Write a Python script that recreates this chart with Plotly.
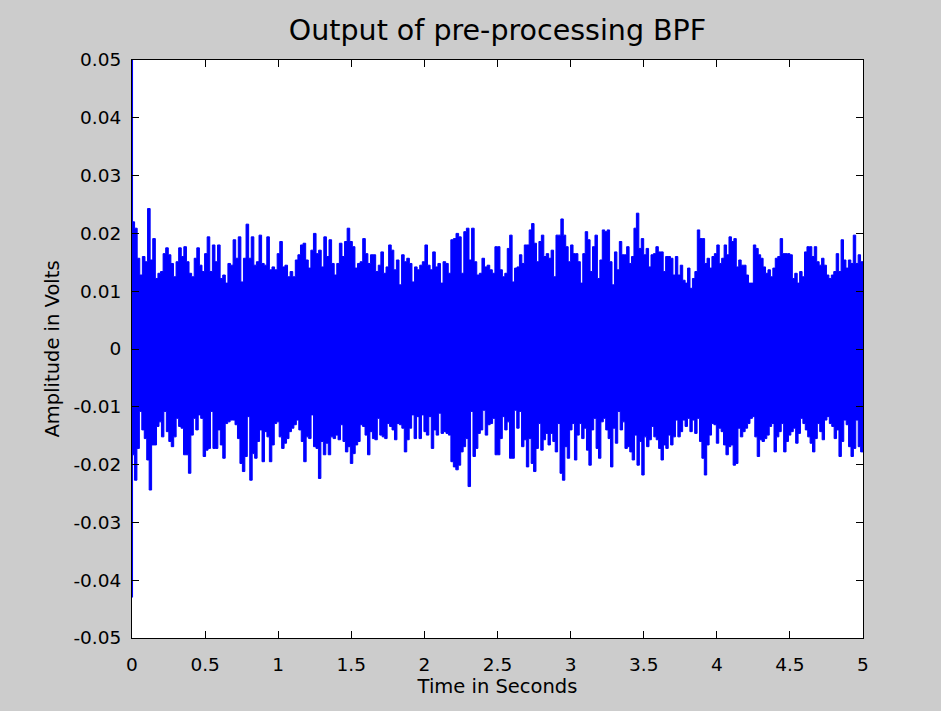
import numpy as np
import plotly.graph_objects as go

# Band-pass filter output, 5 s record.  The trace is stored as its
# per-column peak envelope (max / min of the samples in each short
# time slot), in millivolts, split into the two halves of the record.
DURATION_S = 5.0
SPLIT_S = 2.5

upper_first_mv = [
    22.0, 20.9, 15.7, 12.8, 16.0, 15.1, 24.3, 15.4, 19.1, 12.2,
    13.1, 13.4, 16.5, 17.5, 16.3, 14.8, 12.5, 15.1, 17.5, 16.0,
    17.7, 15.1, 13.1, 12.5, 15.7, 17.5, 14.5, 13.4, 16.5, 19.4,
    13.4, 18.0, 15.1, 18.0, 12.2, 12.8, 11.4, 14.8, 14.5, 18.9,
    15.7, 19.4, 11.6, 15.7, 21.6, 15.7, 19.4, 14.5, 15.1, 19.7,
    14.8, 14.5, 19.4, 13.7, 14.2, 13.7, 16.5, 18.6, 14.2, 14.5,
    12.5, 13.4, 12.5, 15.4, 16.3, 18.0, 18.3, 15.4, 14.0, 17.1,
    20.0, 16.5, 17.1, 14.2, 19.4, 16.0, 18.9, 14.8, 12.8, 14.8,
    18.3, 16.0, 18.6, 20.9, 18.6, 17.7, 14.0, 14.8, 15.1, 19.1,
    16.5, 14.8, 16.3, 16.3, 13.4, 14.5, 16.8, 13.1, 14.2, 18.0,
    17.1, 13.7, 15.4, 11.1, 16.3, 15.1, 15.7, 14.8, 11.6, 14.2,
    13.7, 14.5, 15.1, 18.0, 14.5, 13.7, 16.8, 14.2, 14.8, 11.4,
    15.1, 14.8, 13.1, 18.9, 19.1, 20.0, 19.4, 13.1, 20.3, 20.9,
    15.4, 20.9, 15.1, 12.8, 13.1, 15.7, 14.2, 14.5, 13.7, 13.1,
    17.7,
]

upper_second_mv = [
    17.7, 13.7, 12.5, 13.1, 17.4, 19.7, 11.6, 14.0, 14.2, 16.3,
    14.8, 18.0, 18.0, 20.6, 21.7, 18.3, 15.1, 18.6, 19.7, 16.0,
    16.5, 15.7, 17.1, 12.5, 19.7, 19.7, 22.5, 19.7, 17.7, 15.1,
    18.0, 16.5, 16.5, 15.1, 11.4, 16.5, 20.3, 18.9, 13.4, 17.7,
    19.7, 12.2, 15.4, 20.6, 20.3, 20.6, 15.1, 11.1, 16.8, 13.7,
    18.6, 16.3, 16.3, 17.7, 14.8, 16.0, 20.9, 23.5, 17.4, 19.1,
    16.3, 17.4, 14.2, 16.3, 16.5, 17.7, 16.8, 16.8, 13.4, 16.0,
    16.0, 15.7, 12.8, 16.0, 12.8, 14.5, 11.9, 11.4, 14.0, 10.5,
    12.2, 13.4, 20.6, 19.1, 19.1, 14.8, 15.7, 14.0, 16.0, 16.5,
    18.0, 14.8, 15.7, 18.0, 16.3, 19.4, 18.6, 19.1, 14.2, 15.4,
    14.5, 14.5, 12.8, 11.4, 11.4, 18.0, 17.4, 16.3, 15.7, 14.2,
    13.1, 13.7, 12.5, 14.0, 15.7, 16.0, 19.1, 16.5, 16.5, 16.5,
    16.3, 12.2, 13.1, 11.4, 13.4, 12.5, 16.8, 17.7, 17.7, 16.0,
    17.7, 15.1, 14.5, 15.7, 14.5, 12.8, 12.2, 12.8, 13.4, 16.5,
    13.4, 18.9, 15.4, 14.0, 15.4, 14.8, 19.7, 14.8, 16.3, 15.1,
]

lower_first_mv = [
    -18.3, -22.7, -17.2, -10.8, -14.0, -15.5, -19.2, -24.4, -16.6, -16.6,
    -13.4, -12.6, -15.2, -10.8, -14.3, -16.0, -16.9, -15.2, -12.0, -13.4,
    -13.7, -18.3, -18.3, -21.5, -14.9, -12.0, -14.0, -11.4, -12.0, -18.6,
    -17.5, -17.2, -10.8, -17.2, -17.2, -14.0, -16.6, -18.9, -12.9, -12.6,
    -12.3, -12.3, -13.1, -15.5, -19.8, -21.2, -18.6, -11.7, -22.7, -18.1,
    -18.9, -16.0, -14.0, -19.5, -14.3, -15.2, -19.5, -16.6, -12.9, -12.6,
    -15.2, -17.2, -16.3, -15.5, -14.3, -13.7, -13.1, -12.3, -14.0, -16.0,
    -19.5, -15.2, -15.5, -11.4, -16.9, -17.2, -22.4, -16.0, -18.3, -16.3,
    -18.3, -15.2, -15.5, -14.9, -15.7, -13.1, -16.0, -17.8, -16.9, -19.8,
    -18.1, -16.6, -16.0, -13.1, -13.4, -14.9, -18.3, -14.3, -15.5, -15.7,
    -12.0, -14.9, -15.2, -15.5, -12.9, -13.4, -14.0, -15.7, -12.9, -13.1,
    -13.7, -17.8, -15.7, -13.7, -11.4, -15.5, -11.7, -15.5, -11.4, -14.3,
    -14.9, -11.7, -17.2, -14.0, -14.9, -11.1, -14.6, -14.3, -14.6, -14.9,
    -19.5, -20.4, -20.9, -20.1, -17.8, -16.9, -15.5, -23.8, -10.8, -18.6,
    -17.2, -14.6, -14.0, -10.6, -14.9, -13.1, -12.9, -12.0, -18.3,
]

lower_second_mv = [
    -18.3, -15.5, -11.7, -14.0, -12.6, -18.9, -18.9, -10.6, -13.7, -10.8,
    -16.9, -15.7, -20.4, -15.5, -19.8, -21.2, -17.2, -12.9, -17.5, -15.7,
    -14.6, -16.6, -14.6, -16.0, -17.8, -12.9, -21.5, -22.7, -16.9, -18.9,
    -14.0, -12.9, -19.2, -14.9, -12.9, -15.5, -13.7, -17.5, -20.1, -14.0,
    -12.0, -17.2, -18.9, -12.6, -12.0, -14.0, -15.5, -20.4, -13.7, -16.3,
    -10.8, -14.0, -12.6, -17.2, -16.9, -17.8, -19.2, -14.9, -20.1, -16.0,
    -21.8, -15.2, -16.9, -15.7, -13.4, -15.2, -15.7, -17.2, -19.2, -16.6,
    -17.2, -14.9, -16.6, -15.2, -12.3, -15.2, -14.3, -12.3, -13.4, -12.0,
    -14.3, -12.3, -14.6, -12.0, -16.0, -18.9, -21.8, -16.6, -14.9, -12.9,
    -13.1, -16.3, -13.7, -14.3, -16.6, -18.3, -16.9, -16.6, -20.1, -19.8,
    -13.7, -15.2, -14.3, -13.7, -12.9, -12.0, -11.7, -15.2, -18.6, -15.7,
    -16.0, -15.5, -14.9, -13.4, -12.9, -17.8, -15.2, -14.3, -12.9, -17.8,
    -16.0, -14.9, -14.3, -13.7, -16.3, -14.6, -12.0, -12.9, -14.0, -15.2,
    -16.3, -17.8, -15.5, -12.9, -14.3, -15.7, -12.3, -11.7, -12.9, -13.4,
    -15.5, -14.0, -18.6, -16.0, -12.3, -13.1, -16.9, -18.6, -17.2, -12.3,
    -16.9, -17.8,
]

# Filter start-up transient in the very first samples
onset_time_s = 0.002
onset_peaks_mv = [50.0, -43.0]

x_tick_values = [0, 0.5, 1, 1.5, 2, 2.5, 3, 3.5, 4, 4.5, 5]
x_tick_labels = ["0", "0.5", "1", "1.5", "2", "2.5", "3", "3.5", "4", "4.5", "5"]
y_tick_values = [-0.05, -0.04, -0.03, -0.02, -0.01, 0, 0.01, 0.02, 0.03, 0.04, 0.05]
y_tick_labels = ["-0.05", "-0.04", "-0.03", "-0.02", "-0.01", "0",
                 "0.01", "0.02", "0.03", "0.04", "0.05"]

BLUE = "#0000ff"
FONT = "DejaVu Sans"


def envelope(first_half, second_half):
    """Step-series (time, volts) for an envelope given as two halves."""
    t_a = np.linspace(0.0, SPLIT_S, len(first_half) + 1)[:-1]
    t_b = np.linspace(SPLIT_S, DURATION_S, len(second_half) + 1)
    t = np.concatenate([t_a, t_b])
    v = np.array(first_half + second_half + [second_half[-1]]) / 1000.0
    return t, v


t_up, v_up = envelope(upper_first_mv, upper_second_mv)
t_lo, v_lo = envelope(lower_first_mv, lower_second_mv)

fig = go.Figure()
for t, v in ((t_up, v_up), (t_lo, v_lo)):
    fig.add_trace(go.Scatter(
        x=t, y=v, mode="lines",
        line=dict(color=BLUE, width=1, shape="hv"),
        fill="tozeroy", fillcolor=BLUE,
        hoverinfo="skip", showlegend=False,
    ))

fig.add_trace(go.Scatter(
    x=[onset_time_s, onset_time_s],
    y=[p / 1000.0 for p in onset_peaks_mv],
    mode="lines", line=dict(color=BLUE, width=1.5),
    hoverinfo="skip", showlegend=False,
))

axis_common = dict(
    showline=True, linecolor="#000000", linewidth=1, mirror="ticks",
    ticks="inside", ticklen=7, tickcolor="#000000", tickwidth=1,
    showgrid=False, zeroline=False,
    tickfont=dict(family=FONT, size=18.5, color="#000000"),
)

fig.update_layout(
    width=941, height=711,
    margin=dict(l=132, r=78, t=60, b=73),
    paper_bgcolor="#cccccc", plot_bgcolor="#ffffff",
    title=dict(
        text="Output of pre-processing BPF",
        font=dict(family=FONT, size=28.5, color="#000000"),
        x=0.5, xref="paper", xanchor="center",
        y=1 - 30 / 711, yref="container", yanchor="middle",
    ),
    xaxis=dict(
        range=[0, DURATION_S], tickvals=x_tick_values, ticktext=x_tick_labels,
        ticklabelstandoff=10,
        title=dict(text="Time in Seconds", standoff=4,
                   font=dict(family=FONT, size=19.5, color="#000000")),
        **axis_common,
    ),
    yaxis=dict(
        range=[-0.05, 0.05], tickvals=y_tick_values, ticktext=y_tick_labels,
        ticklabelstandoff=6,
        title=dict(text="Amplitude in Volts", standoff=8,
                   font=dict(family=FONT, size=19.5, color="#000000")),
        **axis_common,
    ),
)

fig.write_html("out.html")
